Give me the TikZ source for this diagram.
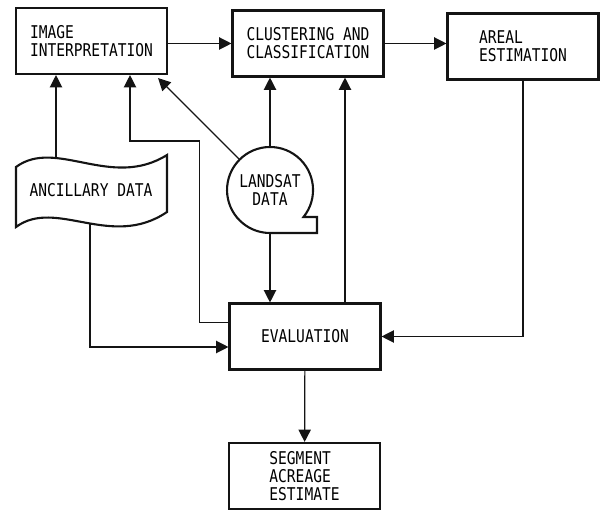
\documentclass[tikz,border=0pt]{standalone}
\usepackage{fontspec}
\usepackage{xcolor}
\usepackage{tikz}
\usetikzlibrary{calc,arrows.meta}
\newfontfamily\flowfont[FakeStretch=0.83]{DejaVu Sans Mono}
\definecolor{primary}{RGB}{20, 20, 20}

\begin{document}
\begin{tikzpicture}[
  box/.style={draw=primary,line width=1.2pt,minimum width=3.02cm,minimum height=1.32cm,align=left,font=\flowfont\fontsize{10}{10.2}\selectfont},
  label/.style={align=center,font=\flowfont\fontsize{10}{10.2}\selectfont},
  outline/.style={primary,line width=1.2pt},
  link/.style={primary,line width=0.7pt},
  arr/.style={link,-{Triangle[length=7pt,width=7pt]}}
]
\useasboundingbox (0,0) rectangle (12.04,-10.2);
% process boxes
\node[box] (image) at (1.83,-0.82) {IMAGE\\INTERPRETATION};
\node[box] (clust) at (6.16,-0.87) {CLUSTERING AND\\CLASSIFICATION};
\node[box] (areal) at (10.46,-0.93) {AREAL\\ESTIMATION};
\node[box] (eval) at (6.1,-6.73) {EVALUATION};
\node[box] (segment) at (6.09,-9.52) {SEGMENT\\ACREAGE\\ESTIMATE};
% data sources
\node[label] (anc) at (1.82,-3.8) {ANCILLARY DATA};
\node[label,circle,minimum size=1.72cm,inner sep=0pt,outer sep=0pt] (landsat) at (5.4,-3.8) {LANDSAT\\DATA};
\draw[outline] ($(anc)+(-1.5,0.46)$) .. controls ($(anc)+(-0.7,1.05)$) and ($(anc)+(0.4,0)$) .. ($(anc)+(1.52,0.7)$)
  -- ($(anc)+(1.52,-0.44)$) .. controls ($(anc)+(0.4,-1.2)$) and ($(anc)+(-0.7,-0.15)$) .. ($(anc)+(-1.5,-0.74)$) -- cycle;
\draw[outline] ($(landsat)+(0.67,-0.54)$) arc[start angle=-38.9,end angle=270,radius=0.86]
  -- ($(landsat)+(0.94,-0.86)$) -- ($(landsat)+(0.94,-0.54)$) -- cycle;
\coordinate (ancTop) at ($(anc)+(-0.7,0.64)$);
\coordinate (ancBot) at ($(anc)+(-0.02,-0.67)$);
\coordinate (evalFb) at ($(eval.north west)!0.29!(eval.south west)$);
\coordinate (evalTop) at ($(eval.north)+(0.8,0)$);
\coordinate (imageTip) at ($(image.south east)+(-0.2,-0.06)$);
% connectors
\draw[arr] (image.east |- clust.west) -- (clust.west);
\draw[arr] (clust.east) -- (clust.east -| areal.west);
\draw[arr] (ancTop) -- (ancTop |- image.south);
\draw[arr] (evalFb) -- ++(-0.58,0) |- ($(image.south)+(0.77,-1.32)$) -- ($(image.south)+(0.77,0)$);
\draw[arr] (landsat) -- (imageTip);
\draw[arr] (landsat.north) -- (landsat.north |- clust.south);
\draw[arr] (landsat.south) -- (landsat.south |- eval.north);
\draw[arr] (evalTop) -- (evalTop |- clust.south);
\draw[arr] (areal.south) |- (eval.east);
\draw[arr] (ancBot) |- ($(eval.west)+(0,-0.21)$);
\draw[arr] (eval) -- (segment);
\end{tikzpicture}
\end{document}
